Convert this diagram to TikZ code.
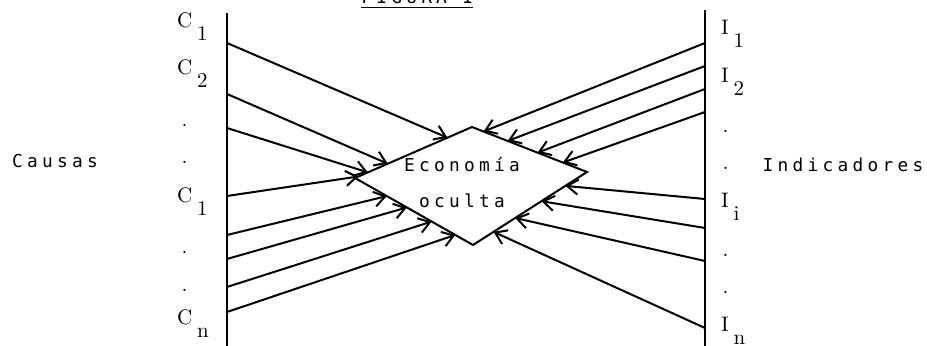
\documentclass[tikz,border=0pt]{standalone}
\usepackage{fontspec}
\usetikzlibrary{arrows.meta,calc}
\newfontfamily\maquina[LetterSpace=24]{DejaVu Sans Mono}
\newcommand{\sublbl}[2]{#1\hspace{2.5pt}\raisebox{-6.5pt}{#2}}

\begin{document}
\begin{tikzpicture}[x=0.5pt,y=-0.5pt,line width=1pt,>={Straight Barb[length=5.5pt,width=7.5pt]},
  txt/.style={font=\maquina\fontsize{8.9}{10}\selectfont,inner sep=0pt,anchor=base},
  lbl/.style={font=\fontsize{10.5}{12}\selectfont,inner sep=0pt,anchor=base west}]
  \useasboundingbox (0,0) rectangle (927,346);
  % titulo y rotulos
  \node[txt] (titulo) at (417,4) {\underline{FIGURA 1}};
  \node[txt] (causas) at (55,168) {Causas};
  \node[txt] (indic) at (843,172) {Indicadores};
  % ejes
  \draw (227,13) -- (227,346);
  \draw (705,10) -- (705,346);
  \foreach \x/\y/\t [count=\i] in {176/28/{\sublbl{C}{1}},176/75/{\sublbl{C}{2}},180.5/127/.,180.5/164/.,
      176/203/{\sublbl{C}{1}},180.5/254/.,180.5/292/.,176/325/{\sublbl{C}{n}}}
    \node[lbl] (cl\i) at (\x,\y) {\t};
  \foreach \x/\y/\t [count=\i] in {720/35/{\sublbl{I}{1}},720/83/{\sublbl{I}{2}},721.5/133/.,721.5/170/.,
      720/208/{\sublbl{I}{i}},721.5/257/.,721.5/294/.,720/332/{\sublbl{I}{n}}}
    \node[lbl] (il\i) at (\x,\y) {\t};
  % rombo
  \coordinate (dT) at (472,127);
  \coordinate (dL) at (355,178);
  \coordinate (dR) at (587,172);
  \coordinate (dB) at (473,245);
  \draw (dT) -- (dR) -- (dB) -- (dL) -- cycle;
  \node[txt] (eco1) at (462,172) {Economía};
  \node[txt] (eco2) at (462,208) {oculta};
  % flechas causas
  \foreach \y/\a/\b/\t [count=\i] in {43/dT/dL/0.21,94/dT/dL/0.72,128/dT/dL/0.89,196/dT/dL/0.97,
      235/dL/dB/0.27,259/dL/dB/0.44,287/dL/dB/0.65,312/dL/dB/0.85} {
    \coordinate (c\i) at (227,\y);
    \coordinate (ec\i) at ($(\a)!\t!(\b)$);
    \draw[->] (c\i) -- (ec\i);
  }
  % flechas indicadores
  \foreach \y/\a/\b/\t [count=\i] in {43/dT/dR/0.10,66/dT/dR/0.31,89/dT/dR/0.57,112/dT/dR/0.79,
      199/dR/dB/0.19,228/dR/dB/0.40,261/dR/dB/0.63,328/dR/dB/0.82} {
    \coordinate (i\i) at (705,\y);
    \coordinate (ei\i) at ($(\a)!\t!(\b)$);
    \draw[->] (i\i) -- (ei\i);
  }
\end{tikzpicture}
\end{document}
